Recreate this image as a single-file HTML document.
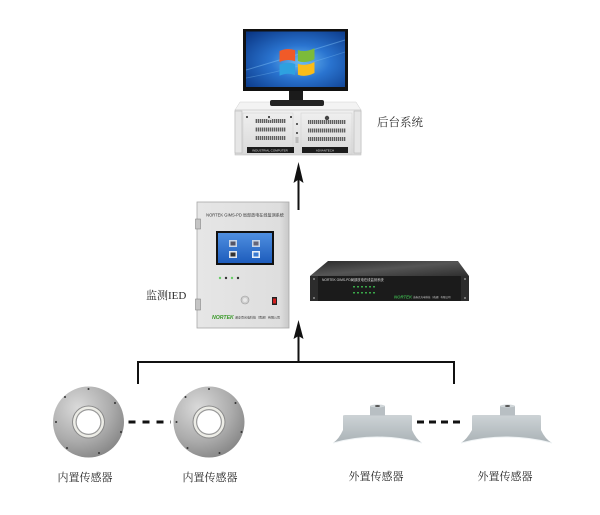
<!DOCTYPE html>
<html><head><meta charset="utf-8">
<style>
html,body{margin:0;padding:0;background:#fff;}
svg{display:block}
.lbl{font-family:"Liberation Serif","Noto Serif CJK SC",serif;fill:#2a2a2a;}
.tiny{font-family:"Liberation Sans","Noto Sans CJK SC",sans-serif;}
</style></head>
<body>
<svg width="600" height="515" viewBox="0 0 600 515" xmlns="http://www.w3.org/2000/svg">
<defs>
  <radialGradient id="scr" cx="0.55" cy="0.55" r="0.75">
    <stop offset="0" stop-color="#6cbaf2"/>
    <stop offset="0.4" stop-color="#2a74d0"/>
    <stop offset="1" stop-color="#0a3684"/>
  </radialGradient>
  <linearGradient id="case" x1="0" y1="0" x2="0" y2="1">
    <stop offset="0" stop-color="#f0f0f0"/><stop offset="1" stop-color="#d9d9d9"/>
  </linearGradient>
  <pattern id="grill" width="2" height="4" patternUnits="userSpaceOnUse">
    <rect width="2" height="4" fill="#cfcfcf"/><rect width="1.2" height="4" fill="#5e5e5e"/>
  </pattern>
  <radialGradient id="disk" cx="0.35" cy="0.3" r="0.85">
    <stop offset="0" stop-color="#dadada"/>
    <stop offset="0.55" stop-color="#acacac"/>
    <stop offset="1" stop-color="#7a7a7a"/>
  </radialGradient>
  <linearGradient id="ext" x1="0" y1="0" x2="0" y2="1">
    <stop offset="0" stop-color="#cdd3d6"/><stop offset="1" stop-color="#aab2b6"/>
  </linearGradient>
  <linearGradient id="ied" x1="0" y1="0" x2="1" y2="0">
    <stop offset="0" stop-color="#e6e6e6"/><stop offset="0.9" stop-color="#dedede"/><stop offset="1" stop-color="#c8c8c8"/>
  </linearGradient>
  <linearGradient id="rtop" x1="0" y1="0" x2="1" y2="1">
    <stop offset="0" stop-color="#2a2a2a"/><stop offset="0.5" stop-color="#555"/><stop offset="1" stop-color="#2e2e2e"/>
  </linearGradient>
  <linearGradient id="iscr" x1="0" y1="0" x2="0" y2="1">
    <stop offset="0" stop-color="#4f8fe0"/><stop offset="1" stop-color="#1d5cbc"/>
  </linearGradient>
</defs>

<rect width="600" height="515" fill="#fff"/>

<!-- ===== PC case ===== -->
<polygon points="240,102 356,102 361,110 235,110" fill="#f3f3f3" stroke="#d0d0d0" stroke-width="0.5"/>
<rect x="235" y="110" width="126" height="45" fill="url(#case)" stroke="#c4c4c4" stroke-width="0.6"/>
<rect x="235" y="111" width="7" height="42" fill="#e6e6e6" stroke="#b8b8b8" stroke-width="0.6"/>
<rect x="354" y="111" width="7" height="42" fill="#e6e6e6" stroke="#b8b8b8" stroke-width="0.6"/>
<rect x="243" y="113" width="50" height="41" fill="none" stroke="#cfcfcf" stroke-width="0.5"/>
<rect x="301" y="113" width="51" height="41" fill="none" stroke="#cfcfcf" stroke-width="0.5"/>
<rect x="255" y="119" width="31" height="4" fill="url(#grill)"/>
<rect x="255" y="127.5" width="31" height="4" fill="url(#grill)"/>
<rect x="255" y="136" width="31" height="4" fill="url(#grill)"/>
<rect x="308" y="120" width="38" height="4" fill="url(#grill)"/>
<rect x="308" y="128.5" width="38" height="4" fill="url(#grill)"/>
<rect x="308" y="137" width="38" height="4" fill="url(#grill)"/>
<rect x="268" y="118" width="4" height="2" fill="#ddd"/>
<circle cx="247" cy="117" r="1" fill="#222"/>
<circle cx="269" cy="117" r="1" fill="#222"/>
<circle cx="291" cy="117" r="1" fill="#222"/>
<circle cx="327" cy="118" r="2.2" fill="#444"/>
<circle cx="297" cy="124" r="1" fill="#333"/>
<circle cx="297" cy="133" r="1" fill="#333"/>
<rect x="295.5" y="137" width="3" height="6" fill="#bbb"/>
<rect x="247" y="147" width="47" height="6" fill="#1c1c1c"/>
<rect x="302" y="147" width="46" height="6" fill="#1c1c1c"/>
<text x="270" y="151.5" font-size="3" fill="#ddd" text-anchor="middle" class="tiny">INDUSTRIAL COMPUTER</text>
<text x="325" y="151.5" font-size="3" fill="#ddd" text-anchor="middle" class="tiny">ADVANTECH</text>

<!-- ===== Monitor ===== -->
<rect x="243" y="29" width="105" height="62" fill="#111"/>
<rect x="246" y="31.5" width="99" height="55.5" fill="url(#scr)"/>
<path d="M246,70 Q280,60 345,40" stroke="#8fd0ff" stroke-width="1" fill="none" opacity="0.4"/>
<path d="M246,78 Q290,70 345,52" stroke="#8fd0ff" stroke-width="0.8" fill="none" opacity="0.3"/>
<g transform="translate(297,62) skewY(-6) scale(0.92)">
  <path d="M-19,-14 Q-10,-17 -2,-13 L-2,-1 Q-10,-5 -19,-2 Z" fill="#f05a28"/>
  <path d="M1,-13 Q9,-9 19,-13 L19,-1 Q9,3 1,-1 Z" fill="#7cbb3a"/>
  <path d="M-19,1 Q-10,-2 -2,2 L-2,14 Q-10,10 -19,13 Z" fill="#2ea1e0"/>
  <path d="M1,2 Q9,6 19,2 L19,14 Q9,18 1,14 Z" fill="#fbbc19"/>
</g>
<rect x="289" y="91" width="14" height="11" fill="#1b1b1b"/>
<rect x="270" y="100" width="54" height="6" rx="2" fill="#222"/>

<text x="377" y="126" font-size="11.5" class="lbl">后台系统</text>

<!-- arrow 1 -->
<line x1="298.5" y1="178" x2="298.5" y2="210" stroke="#111" stroke-width="2"/>
<polygon points="298.5,162 303.5,183 298.5,179.5 293.5,183" fill="#111"/>

<!-- ===== IED cabinet ===== -->
<rect x="197" y="202" width="92" height="126" fill="url(#ied)" stroke="#a8a8a8" stroke-width="0.8"/>
<rect x="195.5" y="219" width="5" height="10" fill="#c4c4c4" stroke="#777" stroke-width="0.5"/>
<rect x="195.5" y="299" width="5" height="11" fill="#c4c4c4" stroke="#777" stroke-width="0.5"/>
<text x="245" y="216.5" font-size="4.1" fill="#333" text-anchor="middle" class="tiny">NORTEK GIMS-PD 局部放电在线监测系统</text>
<rect x="216" y="231" width="58" height="34" fill="#111"/>
<rect x="218" y="233" width="54" height="30" fill="url(#iscr)"/>
<rect x="229" y="240" width="8" height="7" fill="#c9d6e8"/><rect x="230.5" y="241.5" width="5" height="4" fill="#556"/>
<rect x="252" y="240" width="8" height="7" fill="#c9d6e8"/><rect x="253.5" y="241.5" width="5" height="4" fill="#667"/>
<rect x="229" y="251" width="8" height="7" fill="#e0e6ee"/><rect x="230.5" y="252.5" width="5" height="4" fill="#333"/>
<rect x="252" y="251" width="8" height="7" fill="#e6eef8"/><rect x="253.5" y="252.5" width="5" height="4" fill="#3a7ad0"/>
<circle cx="220" cy="278" r="1.2" fill="#6c6"/>
<circle cx="226" cy="278" r="1.2" fill="#333"/>
<circle cx="232" cy="278" r="1.2" fill="#6c6"/>
<circle cx="238" cy="278" r="1.2" fill="#333"/>
<circle cx="245" cy="300" r="4" fill="#cfcfcf" stroke="#999" stroke-width="0.6"/>
<circle cx="245" cy="300" r="2" fill="#e8e8e8"/>
<rect x="272" y="297" width="5" height="8" fill="#222"/>
<rect x="273" y="298.5" width="3" height="5" fill="#d42020"/>
<text x="212" y="319" font-size="5.2" fill="#3a9a2a" font-style="italic" font-weight="bold" class="tiny">NORTEK</text>
<text x="235" y="318.5" font-size="3" fill="#333" class="tiny">诺泰克光电科技（南通）有限公司</text>

<text x="146" y="299" font-size="11" class="lbl">监测IED</text>

<!-- ===== Rack device ===== -->
<polygon points="328,261 458,261 469,276 310,276" fill="url(#rtop)"/>
<rect x="310" y="276" width="159" height="25" fill="#1b1b1b"/>
<rect x="310" y="276" width="8" height="25" fill="#2c2c2c"/>
<rect x="461" y="276" width="8" height="25" fill="#2c2c2c"/>
<circle cx="314" cy="279" r="0.9" fill="#aaa"/><circle cx="314" cy="298" r="0.9" fill="#aaa"/>
<circle cx="465" cy="279" r="0.9" fill="#aaa"/><circle cx="465" cy="298" r="0.9" fill="#aaa"/>
<text x="322" y="281" font-size="3.3" fill="#ddd" class="tiny">NORTEK GIMS-PD局部放电在线监测系统</text>
<g fill="#3aa84a">
  <rect x="353" y="286" width="2" height="1.5"/><rect x="357" y="286" width="2" height="1.5"/><rect x="361" y="286" width="2" height="1.5"/><rect x="365" y="286" width="2" height="1.5"/><rect x="369" y="286" width="2" height="1.5"/><rect x="373" y="286" width="2" height="1.5"/>
  <rect x="353" y="292" width="2" height="1.5"/><rect x="357" y="292" width="2" height="1.5"/><rect x="361" y="292" width="2" height="1.5"/><rect x="365" y="292" width="2" height="1.5"/><rect x="369" y="292" width="2" height="1.5"/><rect x="373" y="292" width="2" height="1.5"/>
</g>
<text x="394" y="298.5" font-size="4.3" fill="#3aa84a" font-style="italic" font-weight="bold" class="tiny">NORTEK</text>
<text x="413" y="298" font-size="2.5" fill="#ccc" class="tiny">诺泰克光电科技（南通）有限公司</text>

<!-- arrow 2 & bus -->
<line x1="298.5" y1="335" x2="298.5" y2="362" stroke="#111" stroke-width="2"/>
<polygon points="298.5,320 303.5,339 298.5,336 293.5,339" fill="#111"/>
<polyline points="138,384 138,362 454,362 454,384" fill="none" stroke="#111" stroke-width="2"/>

<!-- ===== Internal sensors ===== -->
<g>
  <circle cx="88.5" cy="422" r="35.5" fill="url(#disk)"/>
  <circle cx="88.5" cy="422" r="16.5" fill="#8a8a8a"/>
  <circle cx="88.5" cy="422" r="15.5" fill="#ecece6"/>
  <circle cx="88.5" cy="422" r="13" fill="#9a9a9a"/>
  <circle cx="88.5" cy="422" r="11.8" fill="#fff"/>
  <g fill="#333">
    <circle cx="88.5" cy="389" r="1"/><circle cx="115" cy="403" r="1"/><circle cx="121" cy="432" r="1"/>
    <circle cx="99" cy="453" r="1"/><circle cx="67" cy="448" r="1"/><circle cx="56" cy="422" r="1"/><circle cx="65" cy="397" r="1"/>
  </g>
</g>
<g>
  <circle cx="209" cy="422" r="35.5" fill="url(#disk)"/>
  <circle cx="209" cy="422" r="16.5" fill="#8a8a8a"/>
  <circle cx="209" cy="422" r="15.5" fill="#ecece6"/>
  <circle cx="209" cy="422" r="13" fill="#9a9a9a"/>
  <circle cx="209" cy="422" r="11.8" fill="#fff"/>
  <g fill="#333">
    <circle cx="209" cy="389" r="1"/><circle cx="235.5" cy="403" r="1"/><circle cx="241.5" cy="432" r="1"/>
    <circle cx="219.5" cy="453" r="1"/><circle cx="187.5" cy="448" r="1"/><circle cx="176.5" cy="422" r="1"/><circle cx="185.5" cy="397" r="1"/>
  </g>
</g>
<line x1="128.5" y1="422" x2="171" y2="422" stroke="#111" stroke-width="3" stroke-dasharray="7,7"/>

<!-- ===== External sensors ===== -->
<g>
  <path d="M343,416 Q343,415 345,415 L410,415 Q412,415 412,416 L412,430 Q416,439 422,443 Q377,431 333,443 Q339,439 343,430 Z" fill="url(#ext)"/>
  <path d="M333,443 Q377,431 422,443" fill="none" stroke="#eef2f4" stroke-width="1"/>
  <rect x="370" y="406" width="15" height="9.5" fill="#b8bfc3"/>
  <ellipse cx="377.5" cy="406" rx="7.5" ry="1.5" fill="#d0d6d9"/>
  <ellipse cx="377.5" cy="406" rx="2.5" ry="1" fill="#555"/>
</g>
<g>
  <path d="M472,416 Q472,415 474,415 L539,415 Q541,415 541,416 L541,430 Q545,439 552,443 Q506,431 461,443 Q467,439 472,430 Z" fill="url(#ext)"/>
  <path d="M461,443 Q506,431 552,443" fill="none" stroke="#eef2f4" stroke-width="1"/>
  <rect x="500" y="406" width="15" height="9.5" fill="#b8bfc3"/>
  <ellipse cx="507.5" cy="406" rx="7.5" ry="1.5" fill="#d0d6d9"/>
  <ellipse cx="507.5" cy="406" rx="2.5" ry="1" fill="#555"/>
</g>
<line x1="417" y1="422" x2="464" y2="422" stroke="#111" stroke-width="3" stroke-dasharray="7,5"/>

<!-- labels -->
<text x="85" y="481" font-size="11" text-anchor="middle" class="lbl">内置传感器</text>
<text x="210" y="481" font-size="11" text-anchor="middle" class="lbl">内置传感器</text>
<text x="376" y="480" font-size="11" text-anchor="middle" class="lbl">外置传感器</text>
<text x="505" y="480" font-size="11" text-anchor="middle" class="lbl">外置传感器</text>
</svg>
</body></html>
